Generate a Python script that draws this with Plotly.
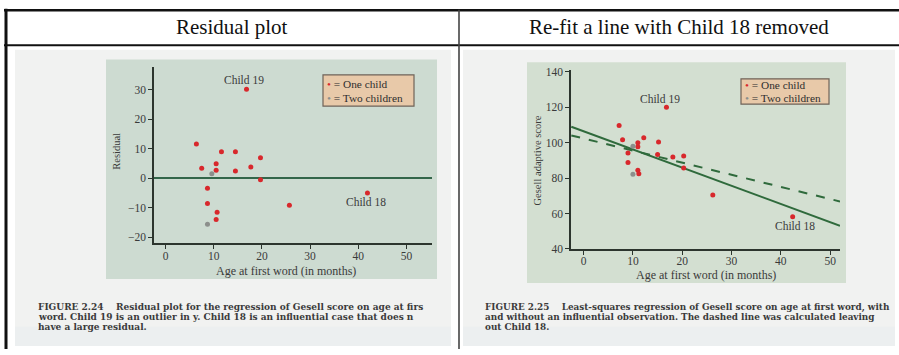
import plotly.graph_objects as go

W, H = 899, 355

# ---------------- data ----------------
header_left = "Residual plot"
header_right = "Re-fit a line with Child 18 removed"

# Residual plot (Figure 2.24)
res_x_one = [6.4, 7.5, 8.7, 8.7, 10.5, 10.5, 10.7, 10.5, 11.6, 14.5, 14.5, 17.7, 19.7, 19.7, 25.7, 16.8, 41.9]
res_y_one = [11.6, 3.4, -3.4, -8.6, 4.9, 2.7, -11.5, -14.0, 9.0, 9.0, 2.5, 3.8, 7.0, -0.5, -9.2, 30.2, -5.0]
res_x_two = [9.6, 8.7]
res_y_two = [1.5, -15.6]

# Gesell score scatter (Figure 2.25)
score_x_one = [7.2, 7.9, 9.0, 9.0, 11.0, 11.0, 11.0, 11.2, 12.2, 15.2, 15.0, 18.1, 20.3, 20.3, 26.2, 16.8, 42.4]
score_y_one = [109.7, 101.7, 94.1, 88.8, 99.9, 97.7, 84.4, 82.4, 102.8, 100.4, 93.3, 91.9, 92.5, 85.7, 70.4, 120.0, 58.2]
score_x_two = [10.0, 10.0]
score_y_two = [98.0, 82.1]

fit_x = [-2.5, 52.0]
fit_all_y = [109.0, 53.1]        # solid line, all children
fit_wo18_y = [104.1, 66.8]       # dashed line, Child 18 left out

x_ticks = [0, 10, 20, 30, 40, 50]
res_ticks = [-20, -10, 0, 10, 20, 30]
score_ticks = [40, 60, 80, 100, 120, 140]

caption_left = [
    "FIGURE 2.24    Residual plot for the regression of Gesell score on age at firs",
    "word. Child 19 is an outlier in y. Child 18 is an influential case that does n",
    "have a large residual.",
]
caption_right = [
    "FIGURE 2.25    Least-squares regression of Gesell score on age at first word, with",
    "and without an influential observation. The dashed line was calculated leaving",
    "out Child 18.",
]

# ---------------- styling ----------------
SERIF = "Liberation Serif, Times New Roman, serif"
WIDE_SERIF = "DejaVu Serif, serif"
RED = "#d8282c"
GRAY = "#8c8f8c"
GREEN = "#2f6a3c"
AXC = "#2c352e"
TXT = "#3a3a3a"


def px(x):
    return x / W


def py(y):
    return 1 - y / H


fig = go.Figure()

# residual plot traces
fig.add_trace(go.Scatter(x=res_x_one, y=res_y_one, mode="markers", xaxis="x", yaxis="y",
                         marker=dict(color=RED, size=5), showlegend=False, cliponaxis=False))
fig.add_trace(go.Scatter(x=res_x_two, y=res_y_two, mode="markers", xaxis="x", yaxis="y",
                         marker=dict(color=GRAY, size=5), showlegend=False, cliponaxis=False))

# regression plot traces
fig.add_trace(go.Scatter(x=fit_x, y=fit_all_y, mode="lines", xaxis="x2", yaxis="y2",
                         line=dict(color=GREEN, width=2), showlegend=False))
fig.add_trace(go.Scatter(x=fit_x, y=fit_wo18_y, mode="lines", xaxis="x2", yaxis="y2",
                         line=dict(color=GREEN, width=2, dash="dash"), showlegend=False))
fig.add_trace(go.Scatter(x=score_x_one, y=score_y_one, mode="markers", xaxis="x2", yaxis="y2",
                         marker=dict(color=RED, size=5), showlegend=False, cliponaxis=False))
fig.add_trace(go.Scatter(x=score_x_two, y=score_y_two, mode="markers", xaxis="x2", yaxis="y2",
                         marker=dict(color=GRAY, size=5), showlegend=False, cliponaxis=False))

axis_common = dict(showgrid=False, showline=True, linecolor=AXC, linewidth=1.5,
                   ticks="outside", ticklen=4, tickwidth=1.2, tickcolor=AXC,
                   tickfont=dict(family=SERIF, size=11.5, color=TXT), fixedrange=True)

fig.update_layout(
    width=W, height=H, autosize=False,
    margin=dict(l=0, r=0, t=0, b=0),
    paper_bgcolor="white", plot_bgcolor="rgba(0,0,0,0)",
    showlegend=False,
    xaxis=dict(domain=[px(154), px(432)], range=[-2.4, 55.3], tickvals=x_ticks,
               zeroline=False, anchor="y", ticklabelstandoff=-3, **axis_common),
    yaxis=dict(domain=[py(246), py(65)], range=[-22.0, 37.7], tickvals=res_ticks,
               zeroline=True, zerolinecolor="#33664a", zerolinewidth=1.6, anchor="x",
               **axis_common),
    xaxis2=dict(domain=[px(571), px(840)], range=[-2.56, 52.0], tickvals=x_ticks,
                zeroline=False, anchor="y2", ticklabelstandoff=-3, **axis_common),
    yaxis2=dict(domain=[py(252), py(68)], range=[40, 141], tickvals=score_ticks,
                zeroline=False, anchor="x2", **axis_common),
)

shapes = []


def rect(x0, y0, x1, y1, fill, line_color=None, lw=0, layer="below"):
    shapes.append(dict(type="rect", xref="paper", yref="paper",
                       x0=px(x0), x1=px(x1), y0=py(y1), y1=py(y0),
                       fillcolor=fill, layer=layer,
                       line=dict(color=line_color or fill, width=lw)))


def hline(x0, x1, y, color, w):
    shapes.append(dict(type="line", xref="paper", yref="paper",
                       x0=px(x0), x1=px(x1), y0=py(y), y1=py(y),
                       line=dict(color=color, width=w), layer="above"))


def vline(x, y0, y1, color, w):
    shapes.append(dict(type="line", xref="paper", yref="paper",
                       x0=px(x), x1=px(x), y0=py(y0), y1=py(y1),
                       line=dict(color=color, width=w), layer="above"))


# scanned page backgrounds
rect(15, 47, 451, 352, "#f1f2f1")
rect(463, 47, 895, 352, "#f1f2f1")
rect(15, 332, 451, 352, "#eceff0")
rect(463, 332, 895, 352, "#eceff0")
# green plot panels
rect(106, 57, 437, 283, "#cddbd1")
rect(527, 60, 846, 287, "#d3dfd1")
# legend boxes
rect(323, 73, 414, 105, "#e8c9a9", "#6f6358", 1.2, layer="below")
rect(741, 77, 829, 103, "#e8c9a9", "#6f6358", 1.2, layer="below")

# table rules
hline(4, 899, 6.5, "#111111", 2.5)
hline(4, 899, 42.5, "#111111", 2)
vline(6, 5, 355, "#111111", 3)
vline(459, 6, 355, "#444444", 1.6)

fig.update_layout(shapes=shapes)

ann = []


def text(x, y, s, size, color=TXT, xanchor="left", xref="paper", yref="paper", angle=0,
         family=SERIF):
    if xref == "paper":
        x = px(x)
    if yref == "paper":
        y = py(y)
    ann.append(dict(x=x, y=y, xref=xref, yref=yref, text=s, showarrow=False,
                    xanchor=xanchor, yanchor="middle", textangle=angle,
                    font=dict(family=family, size=size, color=color)))


# headers
text(232, 24, header_left, 21, "#111111", "center")
text(679, 24, header_right, 21, "#111111", "center")

# axis titles
text(286, 275, "Age at first word (in months)", 12, TXT, "center")
text(117, 151, "Residual", 10.5, TXT, "center", angle=-90)
text(706, 279, "Age at first word (in months)", 12, TXT, "center")
text(537, 161, "Gesell adaptive score", 10.5, TXT, "center", angle=-90)

# point labels
text(16.3, 33.3, "Child 19", 11.5, TXT, "center", xref="x", yref="y")
text(41.6, -8.2, "Child 18", 11.5, TXT, "center", xref="x", yref="y")
text(15.4, 124.7, "Child 19", 11.5, TXT, "center", xref="x2", yref="y2")
text(42.9, 53.1, "Child 18", 11.5, TXT, "center", xref="x2", yref="y2")

# legends
dot_red = "<span style='color:%s'>•</span>" % RED
dot_gray = "<span style='color:%s'>•</span>" % GRAY
text(325, 82, dot_red + " = One child", 11.3, "#2e2e2e")
text(325, 96.5, dot_gray + " = Two children", 11.3, "#2e2e2e")
text(743, 83.5, dot_red + " = One child", 11.3, "#2e2e2e")
text(743, 97, dot_gray + " = Two children", 11.3, "#2e2e2e")

# captions
for i, line in enumerate(caption_left):
    text(36, 312 + 10.2 * i, "<b>" + line + "</b>", 9.0, "#3b3b3b", family=WIDE_SERIF)
for i, line in enumerate(caption_right):
    text(483, 312 + 10.2 * i, "<b>" + line + "</b>", 8.85, "#3b3b3b", family=WIDE_SERIF)

fig.update_layout(annotations=ann)

fig.write_html("out.html")
